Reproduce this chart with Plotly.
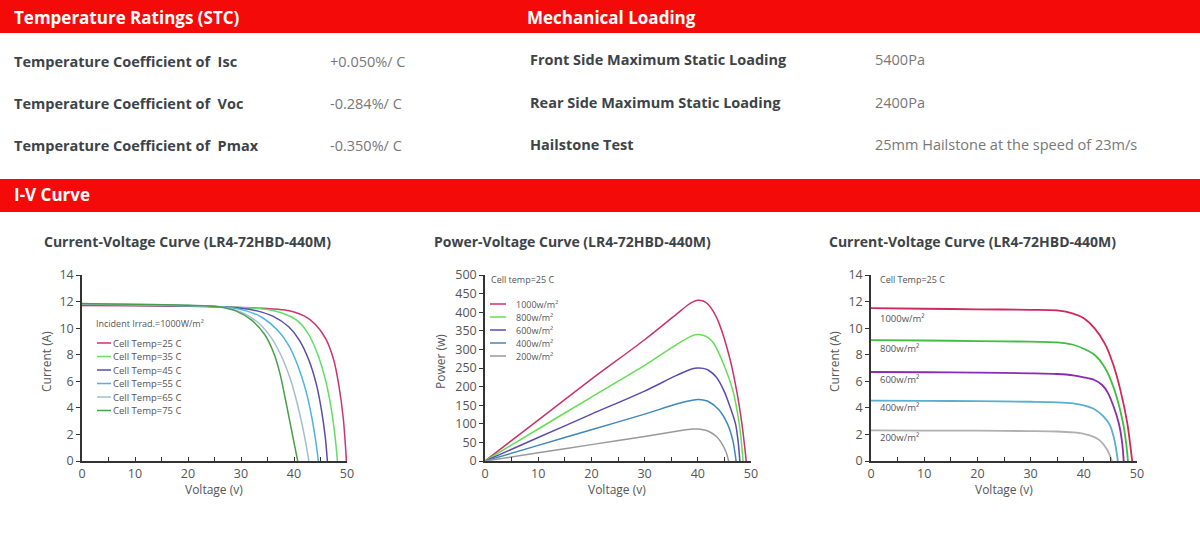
import plotly.graph_objects as go

W, H = 1200, 533

# ---------------- data ----------------
temp_rows = ["Temperature Coefficient of  Isc", "Temperature Coefficient of  Voc", "Temperature Coefficient of  Pmax"]
temp_vals = ["+0.050%/ C", "-0.284%/ C", "-0.350%/ C"]
mech_rows = ["Front Side Maximum Static Loading", "Rear Side Maximum Static Loading", "Hailstone Test"]
mech_vals = ["5400Pa", "2400Pa", "25mm Hailstone at the speed of 23m/s"]

# Chart 1: I-V at different cell temperatures
temp_names = ["Cell Temp=25 C", "Cell Temp=35 C", "Cell Temp=45 C", "Cell Temp=55 C", "Cell Temp=65 C", "Cell Temp=75 C"]
v_t25 = [0, 10, 20, 30, 35, 38, 40, 42, 44, 46, 47.5, 48.5, 49.3, 49.9]
i_t25 = [11.7, 11.68, 11.64, 11.55, 11.47, 11.38, 11.22, 10.9, 10.3, 9.2, 7.6, 5.6, 3.2, 0]
v_t35 = [0, 10, 20, 30, 35, 38, 40.5, 42.5, 44.5, 46, 47, 47.7, 48.2]
i_t35 = [11.75, 11.72, 11.68, 11.55, 11.4, 11.1, 10.6, 9.7, 8.0, 6.0, 4.0, 2.0, 0]
v_t45 = [0, 20, 30, 33, 36, 39, 41, 42.8, 44.2, 45.2, 45.9, 46.3]
i_t45 = [11.75, 11.68, 11.5, 11.3, 10.9, 10.1, 9.1, 7.6, 5.8, 3.8, 1.8, 0]
v_t55 = [0, 20, 28, 31, 34, 37, 39, 40.8, 42.3, 43.4, 44.1, 44.6]
i_t55 = [11.8, 11.7, 11.55, 11.3, 10.8, 9.8, 8.7, 7.1, 5.2, 3.2, 1.5, 0]
v_t65 = [0, 20, 27, 30, 33, 35.5, 37.5, 39.2, 40.5, 41.6, 42.3, 42.8]
i_t65 = [11.82, 11.7, 11.55, 11.2, 10.5, 9.4, 8.0, 6.3, 4.5, 2.6, 1.2, 0]
v_t75 = [0, 20, 26, 29, 32, 34.5, 36.3, 37.4, 38.3, 39.3, 40.1, 40.7]
i_t75 = [11.85, 11.72, 11.6, 11.3, 10.6, 9.5, 8.0, 6.5, 4.8, 2.8, 1.2, 0]
temp_v = [v_t25, v_t35, v_t45, v_t55, v_t65, v_t75]
temp_i = [i_t25, i_t35, i_t45, i_t55, i_t65, i_t75]
temp_colors = ["#cc3377", "#66dd66", "#5b4ca8", "#4fb3e0", "#9fbfd0", "#4a9e4a"]

# Chart 2: P-V at different irradiances
irr_names = ["1000w/m²", "800w/m²", "600w/m²", "400w/m²", "200w/m²"]
pv_v1000 = [0, 10, 20, 30, 36, 38, 39, 40, 41, 42, 43, 44, 46, 47.3, 48.3, 48.8, 49.1]
pv_p1000 = [0, 110, 220, 326, 395, 418, 427, 432, 430, 420, 400, 370, 277, 189, 99, 40, 0]
pv_v800 = [0, 10, 20, 30, 36, 39, 40, 41, 42, 43, 44.3, 46.6, 47.8, 48.2, 48.5]
pv_p800 = [0, 86, 172, 257, 313, 337, 340, 338, 331, 316, 279, 189, 99, 50, 0]
pv_v600 = [0, 10, 20, 30, 36, 39, 40, 41, 42, 43.5, 44.9, 46.2, 47.1, 47.6, 47.9]
pv_p600 = [0, 63, 126, 188, 230, 248, 250, 249, 244, 225, 189, 140, 99, 50, 0]
pv_v400 = [0, 10, 20, 30, 36, 39, 40, 41, 42, 44, 45.6, 46.6, 47.2]
pv_p400 = [0, 42, 84, 126, 153, 163, 165, 164, 160, 137, 99, 54, 0]
pv_v200 = [0, 10, 20, 30, 36, 39, 40, 41, 42, 43.5, 44.2, 45.2, 45.8]
pv_p200 = [0, 22, 44, 66, 80, 86, 86, 84, 80, 66, 54, 28, 0]
pv_v = [pv_v1000, pv_v800, pv_v600, pv_v400, pv_v200]
pv_p = [pv_p1000, pv_p800, pv_p600, pv_p400, pv_p200]
pv_colors = ["#c8336e", "#66dd55", "#5a4db0", "#3f88b8", "#999999"]

# Chart 3: I-V at different irradiances
iv_v1000 = [0, 10, 20, 30, 35, 38, 40, 42, 44, 45.5, 46.9, 48.2, 48.7, 49.1]
iv_i1000 = [11.5, 11.46, 11.42, 11.38, 11.33, 11.1, 10.75, 10.0, 8.8, 7.3, 5.3, 2.8, 1.3, 0]
iv_v800 = [0, 10, 20, 30, 35, 38, 40, 42, 44, 45.8, 47.4, 48, 48.3]
iv_i800 = [9.1, 9.07, 9.03, 8.98, 8.93, 8.75, 8.45, 8.0, 7.0, 5.3, 2.8, 1.2, 0]
iv_v600 = [0, 10, 20, 30, 35, 38, 40, 42, 43.5, 44.5, 45.6, 46.6, 47.2, 47.5]
iv_i600 = [6.7, 6.68, 6.65, 6.6, 6.55, 6.45, 6.3, 6.1, 5.7, 5.15, 4.1, 2.8, 1.4, 0]
iv_v400 = [0, 10, 20, 30, 35, 38, 40, 42, 43.6, 44.9, 45.8, 46.4]
iv_i400 = [4.55, 4.53, 4.5, 4.46, 4.42, 4.33, 4.18, 3.9, 3.4, 2.7, 1.5, 0]
iv_v200 = [0, 10, 20, 30, 35, 38, 40, 42, 43, 44.4, 45.3]
iv_i200 = [2.3, 2.29, 2.28, 2.25, 2.22, 2.15, 2.05, 1.8, 1.55, 0.85, 0]
iv_v = [iv_v1000, iv_v800, iv_v600, iv_v400, iv_v200]
iv_i = [iv_i1000, iv_i800, iv_i600, iv_i400, iv_i200]
iv_colors = ["#d0285a", "#3fbf3f", "#8c2bb0", "#5aaed0", "#b0b0b0"]


# ---------------- helpers ----------------
def px(x):
    return x / W


def py(y):
    return 1 - y / H


fig = go.Figure()

for v, i, c, n in zip(temp_v, temp_i, temp_colors, temp_names):
    fig.add_trace(go.Scatter(x=v, y=i, mode="lines", name=n, line=dict(color=c, width=1.5, shape="spline", smoothing=0.8),
                             xaxis="x", yaxis="y", showlegend=False))
for v, p, c, n in zip(pv_v, pv_p, pv_colors, irr_names):
    fig.add_trace(go.Scatter(x=v, y=p, mode="lines", name=n, line=dict(color=c, width=1.5, shape="spline", smoothing=0.8),
                             xaxis="x2", yaxis="y2", showlegend=False))
for v, i, c, n in zip(iv_v, iv_i, iv_colors, irr_names):
    fig.add_trace(go.Scatter(x=v, y=i, mode="lines", name=n, line=dict(color=c, width=1.8, shape="spline", smoothing=0.8),
                             xaxis="x3", yaxis="y3", showlegend=False))

tickfont = dict(family="Open Sans", size=12.5, color="#555555")
axis_common = dict(showgrid=False, zeroline=False, showline=True, linecolor="#333333", linewidth=1.5,
                   tickfont=tickfont, ticklen=4, tickcolor="#333333", fixedrange=True, automargin=False)


def xaxis(dom, anchor):
    return dict(domain=dom, anchor=anchor, range=[0, 50], dtick=10, tick0=0, ticks="inside",
                minor=dict(dtick=5, tick0=0, ticks="inside", ticklen=4, tickcolor="#333333"),
                **axis_common)


def yaxis(dom, anchor, rng, dt):
    return dict(domain=dom, anchor=anchor, range=rng, dtick=dt, tick0=0, ticks="outside", **axis_common)


ydom = [py(461), py(275)]
fig.update_layout(
    width=W, height=H, margin=dict(l=0, r=0, t=0, b=0, pad=0, autoexpand=False), autosize=False,
    paper_bgcolor="white", plot_bgcolor="white",
    xaxis=xaxis([px(82), px(347)], "y"),
    yaxis=yaxis(ydom, "x", [0, 14], 2),
    xaxis2=xaxis([px(485), px(751)], "y2"),
    yaxis2=yaxis(ydom, "x2", [0, 500], 50),
    xaxis3=xaxis([px(871), px(1137)], "y3"),
    yaxis3=yaxis(ydom, "x3", [0, 14], 2),
)

shapes = []
ann = []

# red header bars
for (y0, y1) in [(0, 33), (179, 212)]:
    shapes.append(dict(type="rect", xref="paper", yref="paper", x0=0, x1=1, y0=py(y1), y1=py(y0),
                       fillcolor="#f50a0a", line=dict(width=0), layer="below"))


def text(x, y, s, size=12, color="#444444", bold=False, xanchor="left", angle=0, family="Open Sans"):
    ann.append(dict(x=px(x), y=py(y), xref="paper", yref="paper", text=s, showarrow=False, xanchor=xanchor,
                    yanchor="middle", textangle=angle, borderpad=0,
                    font=dict(family=family, size=size, color=color, weight="bold" if bold else "normal")))


text(13, 17, "Temperature Ratings (STC)", 17, "white", True)
text(526, 17, "Mechanical Loading", 17, "white", True)
text(13, 194, "I-V Curve", 17, "white", True)

for k, (r, v) in enumerate(zip(temp_rows, temp_vals)):
    yy = 62 + 42 * k
    text(13, yy, r, 14.5, "#3d4448", True)
    text(329, yy, v, 14.5, "#777777")
for k, (r, v) in enumerate(zip(mech_rows, mech_vals)):
    yy = 60 + 42 * k
    text(529, yy, r, 14.5, "#3d4448", True)
    text(874, yy, v, 14.5, "#777777")

text(43, 241, "Current-Voltage Curve (LR4-72HBD-440M)", 14, "#3d4448", True)
text(433, 241, "Power-Voltage Curve (LR4-72HBD-440M)", 14, "#3d4448", True)
text(828, 241, "Current-Voltage Curve (LR4-72HBD-440M)", 14, "#3d4448", True)

# axis titles
text(214, 490, "Voltage (v)", 12, "#555555", xanchor="center")
text(617, 490, "Voltage (v)", 12, "#555555", xanchor="center")
text(1004, 490, "Voltage (v)", 12, "#555555", xanchor="center")
text(47, 362, "Current (A)", 12, "#555555", xanchor="center", angle=-90)
text(441, 362, "Power (w)", 12, "#555555", xanchor="center", angle=-90)
text(835, 362, "Current (A)", 12, "#555555", xanchor="center", angle=-90)

# chart 1 legend
text(95, 323, "Incident Irrad.=1000W/m²", 9, "#555555")
for k, (n, c) in enumerate(zip(temp_names, temp_colors)):
    yy = 343 + 13.5 * k
    shapes.append(dict(type="line", xref="paper", yref="paper", x0=px(97), x1=px(111), y0=py(yy), y1=py(yy),
                       line=dict(color=c, width=1.5)))
    text(112, yy, n, 9.5, "#555555")

# chart 2 legend
text(490, 279, "Cell temp=25 C", 9, "#555555")
for k, (n, c) in enumerate(zip(irr_names, pv_colors)):
    yy = 304 + 13 * k
    shapes.append(dict(type="line", xref="paper", yref="paper", x0=px(490), x1=px(506), y0=py(yy), y1=py(yy),
                       line=dict(color=c, width=1.5)))
    text(515, yy, n, 9, "#555555")

# chart 3 labels
text(879, 279, "Cell Temp=25 C", 9, "#555555")
for n, yy in zip(irr_names, [318, 348, 379, 407, 437]):
    text(879, yy, n, 9.5, "#555555")

fig.update_layout(shapes=shapes, annotations=ann)
fig.write_html("out.html", config={"displayModeBar": False},
               post_script="document.body.style.margin='0';document.body.style.overflow='hidden';")
